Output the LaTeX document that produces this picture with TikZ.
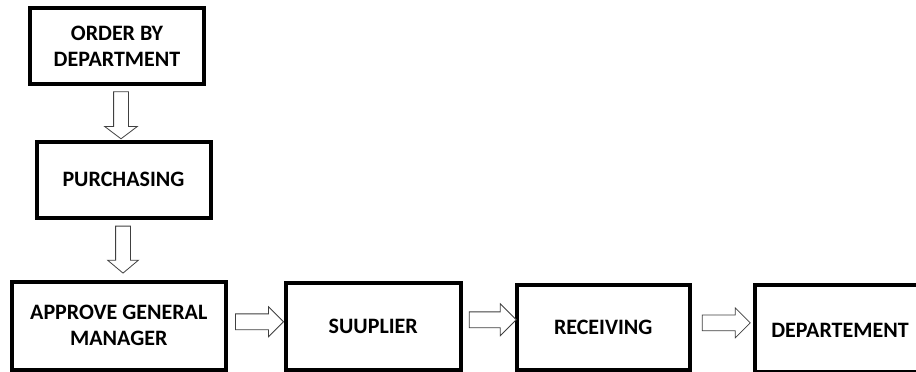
\documentclass[tikz,border=0pt]{standalone}
\usepackage{fontspec}
\setmainfont{Carlito}
\usetikzlibrary{shapes.arrows,calc}
\tikzset{
  box/.style={draw=black, line width=4pt, rectangle, inner sep=0pt, align=center,
    font=\bfseries\fontsize{22}{26}\selectfont, text=black},
  blockarrow/.style={draw=black!75, line width=0.8pt, single arrow, inner sep=7pt,
    minimum height=47pt, single arrow head extend=8.5pt, fill=white},
}
\begin{document}
\begin{tikzpicture}[x=1pt, y=-1pt]
  \useasboundingbox (0,0) rectangle (916,372);
  \clip (0,0) rectangle (916,372);
  \fill[white] (0,0) rectangle (916,372);

  \node[box, minimum width=174pt, minimum height=76pt] (order) at (117,46) {ORDER BY\\DEPARTMENT};
  \node[box, minimum width=174pt, minimum height=76pt] (purch) at (123.5,179.5) {PURCHASING};
  \node[box, minimum width=213.5pt, minimum height=88pt] (approve) at (118.75,325.5) {APPROVE GENERAL\\MANAGER};
  \node[box, minimum width=175.5pt, minimum height=87pt] (supp) at (373.25,326) {\raisebox{-4pt}{SUUPLIER}};
  \node[box, minimum width=173.5pt, minimum height=85pt] (recv) at (603.25,327.5) {\raisebox{-3pt}{RECEIVING}};
  \node[box, minimum width=175pt, minimum height=87.5pt, anchor=north west] (dept) at (752.5,282.5) {};
  \node[font=\bfseries\fontsize{22}{26}\selectfont] (depttext) at (840,330) {DEPARTEMENT};

  \node[blockarrow, shape border rotate=270, single arrow tip angle=106, single arrow head extend=9pt] (a1) at (121,112.5) {};
  \node[blockarrow, shape border rotate=270, single arrow tip angle=100, single arrow head extend=8pt] (a2) at (123,246.5) {};
  \node[blockarrow, inner sep=7.5pt, single arrow head extend=7pt, minimum height=48pt] (a3) at ($(approve.east)!0.5!(supp.west)+(0,-4)$) {};
  \node[blockarrow, inner sep=7.5pt, single arrow head extend=8pt] (a4) at ($(supp.east)!0.5!(recv.west)+(0,-7)$) {};
  \node[blockarrow, inner sep=7.5pt, single arrow head extend=7pt, minimum height=48pt] (a5) at ($(recv.east)!0.5!(dept.west)+(0,-5)$) {};
\end{tikzpicture}
\end{document}
